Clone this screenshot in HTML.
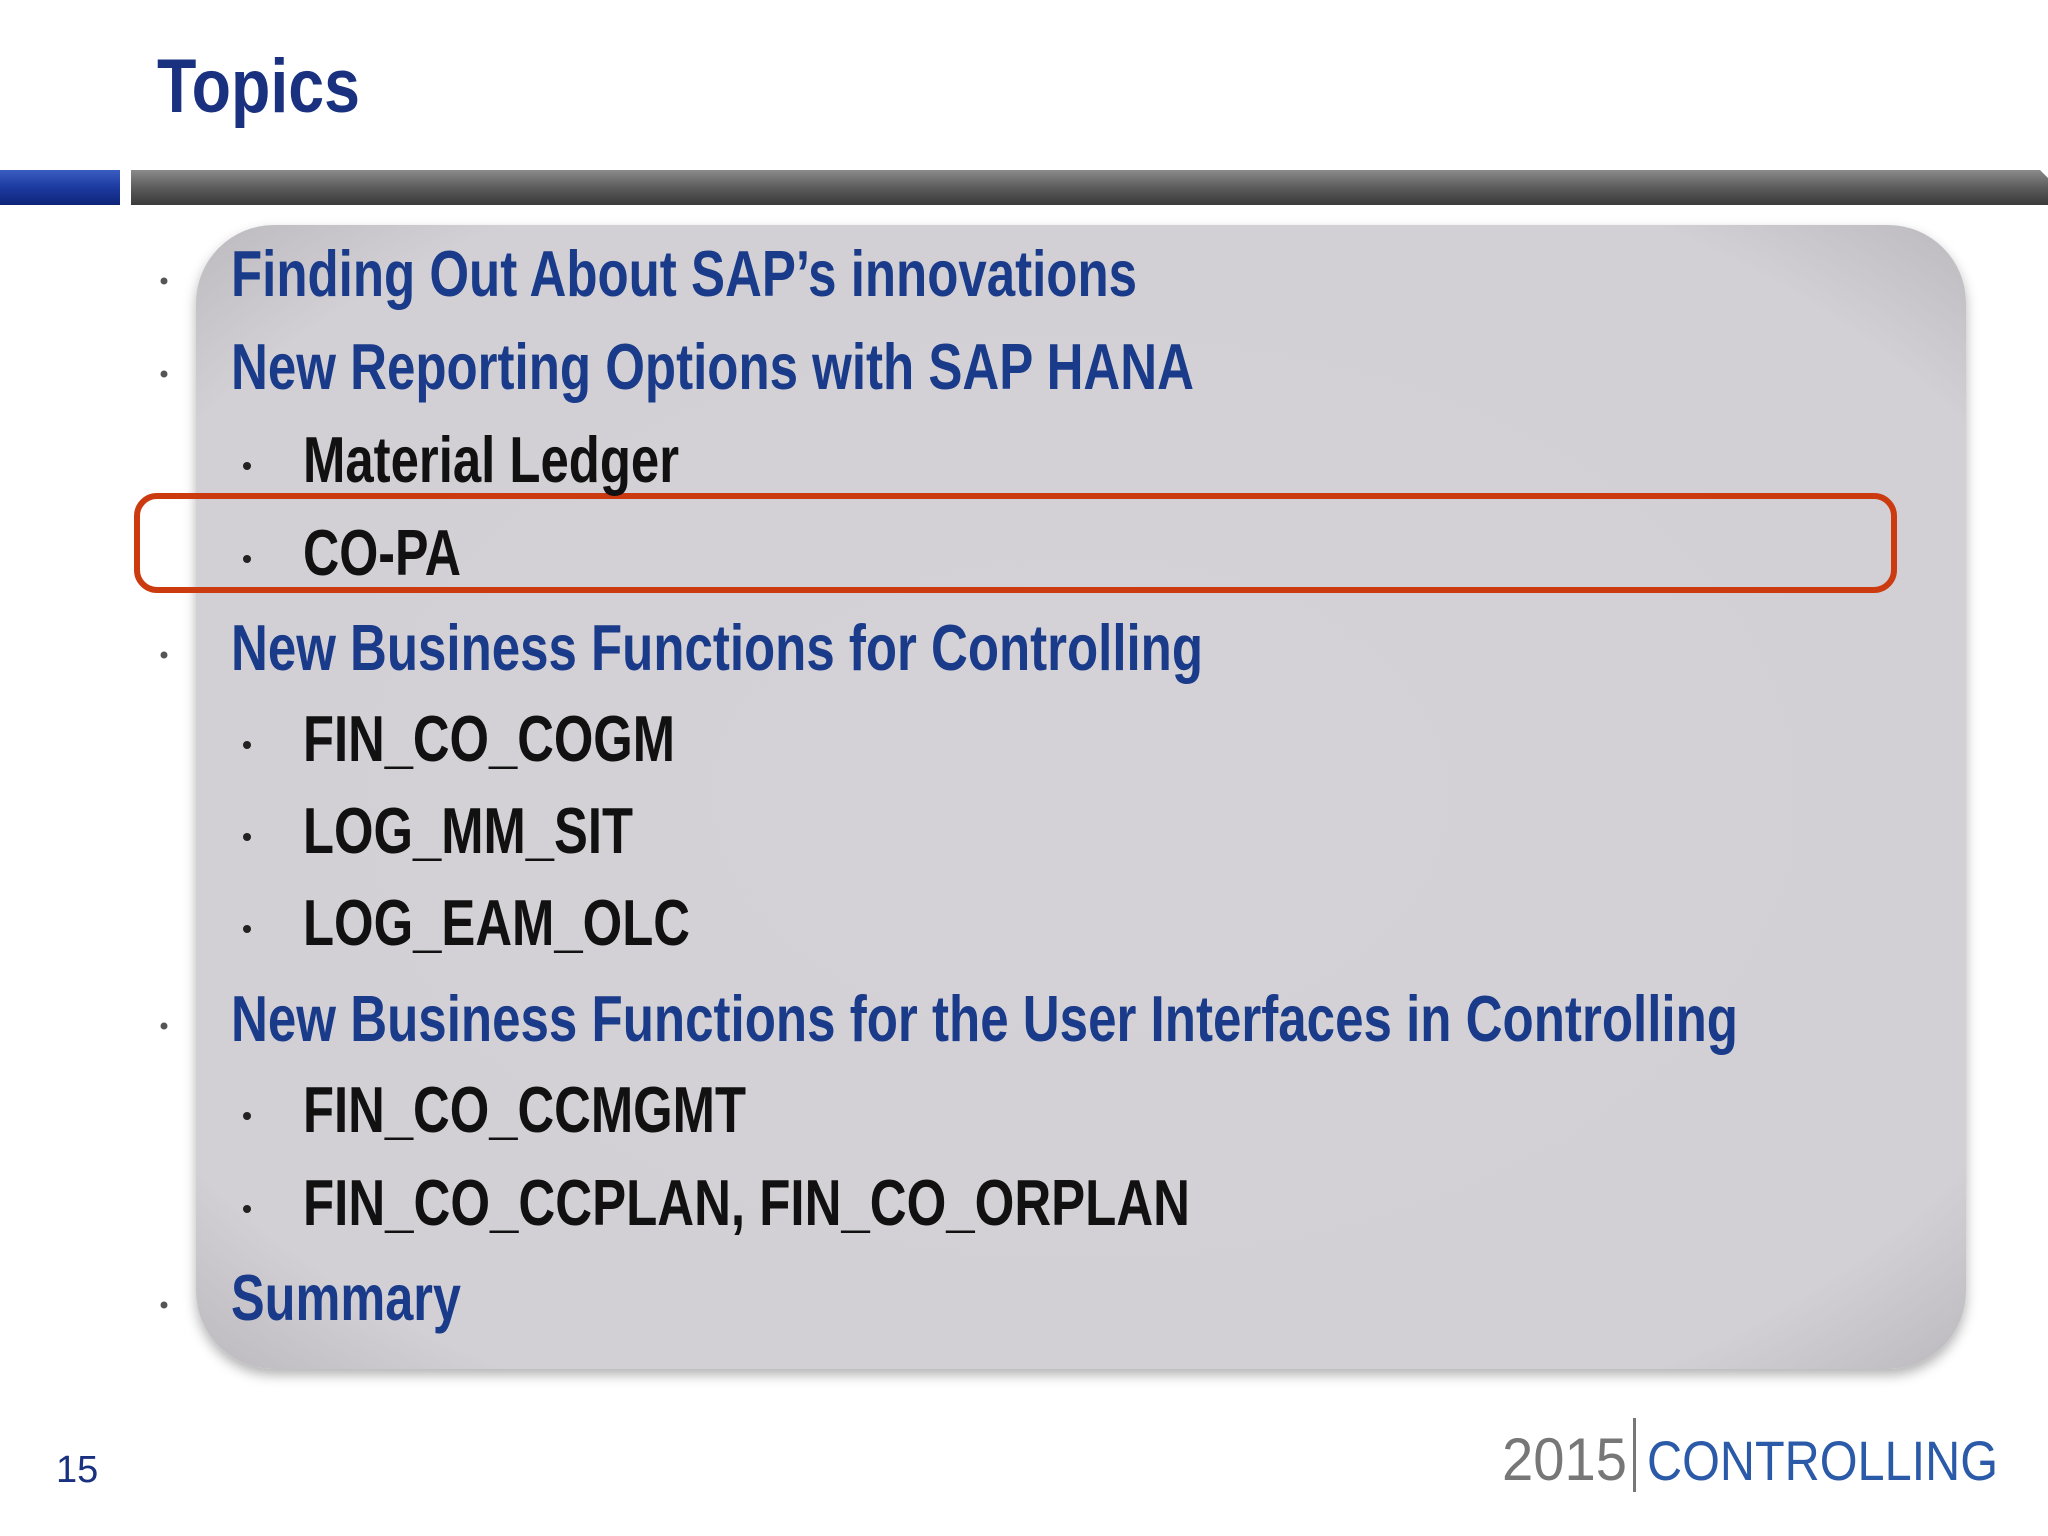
<!DOCTYPE html>
<html><head><meta charset="utf-8"><style>
html,body{margin:0;padding:0;background:#fff;}
svg{display:block;}
text{font-family:"Liberation Sans Narrow","Liberation Sans",sans-serif;font-weight:bold;}
</style></head><body>
<svg width="2048" height="1536" viewBox="0 0 2048 1536">
<defs>
<linearGradient id="bar" x1="0" y1="0" x2="0" y2="1">
<stop offset="0" stop-color="#8a8a8a"/><stop offset="0.5" stop-color="#5c5c5c"/><stop offset="1" stop-color="#3a3a3a"/></linearGradient>
<linearGradient id="bbar" x1="0" y1="0" x2="0" y2="1">
<stop offset="0" stop-color="#3a5cc0"/><stop offset="0.5" stop-color="#1c3aa0"/><stop offset="1" stop-color="#0e2478"/></linearGradient>
<radialGradient id="panel" cx="0.5" cy="0.5" r="0.7">
<stop offset="0" stop-color="#d4d2d6"/><stop offset="0.85" stop-color="#d2d0d4"/><stop offset="1" stop-color="#bdbbc0"/></radialGradient>
<filter id="sh" x="-5%" y="-5%" width="110%" height="110%"><feDropShadow dx="0" dy="6" stdDeviation="6" flood-color="#000" flood-opacity="0.3"/></filter>
</defs>
<text x="157" y="112" font-size="76" fill="#1a3180" textLength="203" lengthAdjust="spacingAndGlyphs">Topics</text>
<rect x="0" y="170" width="120" height="35" fill="url(#bbar)"/>
<polygon points="131,170 2040,170 2048,178 2048,205 131,205" fill="url(#bar)"/>
<rect x="196" y="225" width="1770" height="1144" rx="78" fill="url(#panel)" filter="url(#sh)"/>
<rect x="137" y="496" width="1757" height="94" rx="20" fill="none" stroke="#cc3a10" stroke-width="6"/>
<g fill="#1a3a8a" font-size="65">
<circle cx="164" cy="281" r="3.5" fill="#555"/>
<text x="231" y="296" textLength="906" lengthAdjust="spacingAndGlyphs">Finding Out About SAP’s innovations</text>
<circle cx="164" cy="374" r="3.5" fill="#555"/>
<text x="231" y="389" textLength="963" lengthAdjust="spacingAndGlyphs">New Reporting Options with SAP HANA</text>
<circle cx="164" cy="655" r="3.5" fill="#555"/>
<text x="231" y="670" textLength="972" lengthAdjust="spacingAndGlyphs">New Business Functions for Controlling</text>
<circle cx="164" cy="1026" r="3.5" fill="#555"/>
<text x="231" y="1041" textLength="1507" lengthAdjust="spacingAndGlyphs">New Business Functions for the User Interfaces in Controlling</text>
<circle cx="164" cy="1305" r="3.5" fill="#555"/>
<text x="231" y="1320" textLength="230" lengthAdjust="spacingAndGlyphs">Summary</text>
</g>
<g fill="#111" font-size="65">
<circle cx="247" cy="466" r="4" fill="#222"/>
<text x="303" y="482" textLength="376" lengthAdjust="spacingAndGlyphs">Material Ledger</text>
<circle cx="247" cy="559" r="4" fill="#222"/>
<text x="303" y="575" textLength="158" lengthAdjust="spacingAndGlyphs">CO-PA</text>
<circle cx="247" cy="745" r="4" fill="#222"/>
<text x="303" y="761" textLength="372" lengthAdjust="spacingAndGlyphs">FIN_CO_COGM</text>
<circle cx="247" cy="837" r="4" fill="#222"/>
<text x="303" y="853" textLength="330" lengthAdjust="spacingAndGlyphs">LOG_MM_SIT</text>
<circle cx="247" cy="929" r="4" fill="#222"/>
<text x="303" y="945" textLength="387" lengthAdjust="spacingAndGlyphs">LOG_EAM_OLC</text>
<circle cx="247" cy="1116" r="4" fill="#222"/>
<text x="303" y="1132" textLength="443" lengthAdjust="spacingAndGlyphs">FIN_CO_CCMGMT</text>
<circle cx="247" cy="1209" r="4" fill="#222"/>
<text x="303" y="1225" textLength="887" lengthAdjust="spacingAndGlyphs">FIN_CO_CCPLAN, FIN_CO_ORPLAN</text>
</g>
<text x="56" y="1482" font-size="38" fill="#1a3180" style="font-family:'Liberation Sans',sans-serif;font-weight:normal">15</text>
<g>
<text x="1502" y="1480" font-size="60" fill="#777" textLength="125" lengthAdjust="spacingAndGlyphs" style="font-family:'Liberation Sans',sans-serif;font-weight:normal">2015</text>
<rect x="1633" y="1418" width="3" height="74" fill="#777"/>
<text x="1647" y="1480" font-size="56" fill="#2a5aa8" textLength="351" lengthAdjust="spacingAndGlyphs" style="font-family:'Liberation Sans',sans-serif;font-weight:normal">CONTROLLING</text>
</g>
</svg>
</body></html>
